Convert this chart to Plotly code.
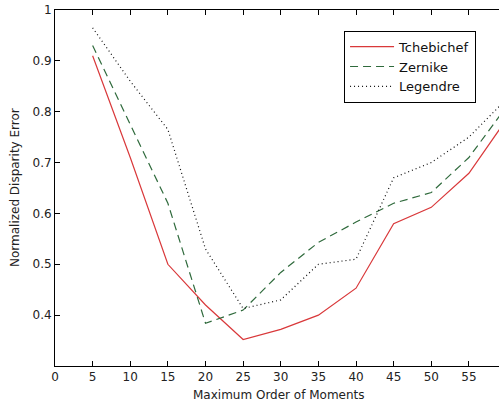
import plotly.graph_objects as go

orders = [5, 10, 15, 20, 25, 30, 35, 40, 45, 50, 55, 60]
tchebichef = [0.91, 0.71, 0.50, 0.42, 0.352, 0.372, 0.40, 0.453, 0.58, 0.612, 0.679, 0.785]
zernike = [0.93, 0.775, 0.62, 0.384, 0.41, 0.484, 0.543, 0.583, 0.62, 0.641, 0.71, 0.81]
legendre = [0.965, 0.86, 0.765, 0.53, 0.413, 0.43, 0.50, 0.51, 0.67, 0.70, 0.75, 0.825]

xticks = [0, 5, 10, 15, 20, 25, 30, 35, 40, 45, 50, 55]
yticks = [0.4, 0.5, 0.6, 0.7, 0.8, 0.9, 1.0]
yticklabels = ["0.4", "0.5", "0.6", "0.7", "0.8", "0.9", "1"]

FAM = "DejaVu Sans, Liberation Sans, sans-serif"

fig = go.Figure()
fig.add_trace(go.Scatter(x=orders, y=tchebichef, mode="lines", name="Tchebichef",
                         line=dict(color="#d9383a", width=1.2)))
fig.add_trace(go.Scatter(x=orders, y=zernike, mode="lines", name="Zernike",
                         line=dict(color="#2f6a3c", width=1.2, dash="8px,5px")))
fig.add_trace(go.Scatter(x=orders, y=legendre, mode="lines", name="Legendre",
                         line=dict(color="#111111", width=1.2, dash="1px,3px")))

fig.update_layout(
    width=499, height=405,
    margin=dict(l=55, r=0, t=10, b=39, autoexpand=False),
    paper_bgcolor="white", plot_bgcolor="white",
    font=dict(family=FAM, size=12, color="#222222"),
    showlegend=True,
    legend=dict(x=0.651, y=0.942, xanchor="left", yanchor="top",
                bordercolor="black", borderwidth=1, bgcolor="white",
                font=dict(family=FAM, size=13, color="#111111"),
                tracegroupgap=0, itemwidth=44),
    xaxis=dict(range=[0, 59], tickvals=xticks, ticks="inside", ticklen=5,
               tickcolor="black", showline=True, linecolor="black", linewidth=1,
               mirror="ticks", showgrid=False, zeroline=False, automargin=False,
               tickfont=dict(size=12)),
    yaxis=dict(range=[0.3, 1.0], tickvals=yticks, ticktext=yticklabels,
               ticks="inside", ticklen=5, tickcolor="black", showline=True,
               linecolor="black", linewidth=1, mirror=False, showgrid=False,
               zeroline=False, automargin=False, tickfont=dict(size=12)),
    annotations=[
        dict(text="Maximum Order of Moments", xref="paper", yref="paper",
             x=0.505, y=-0.081, xanchor="center", yanchor="middle",
             showarrow=False, font=dict(family=FAM, size=12, color="#222222")),
        dict(text="Normalized Disparity Error", xref="paper", yref="paper",
             x=-0.09, y=0.5, xanchor="center", yanchor="middle", textangle=-90,
             showarrow=False, font=dict(family=FAM, size=12, color="#222222")),
    ],
)

fig.write_html("out.html", config={"displayModeBar": False},
               post_script="document.body.style.margin='0';document.body.style.padding='0';")
